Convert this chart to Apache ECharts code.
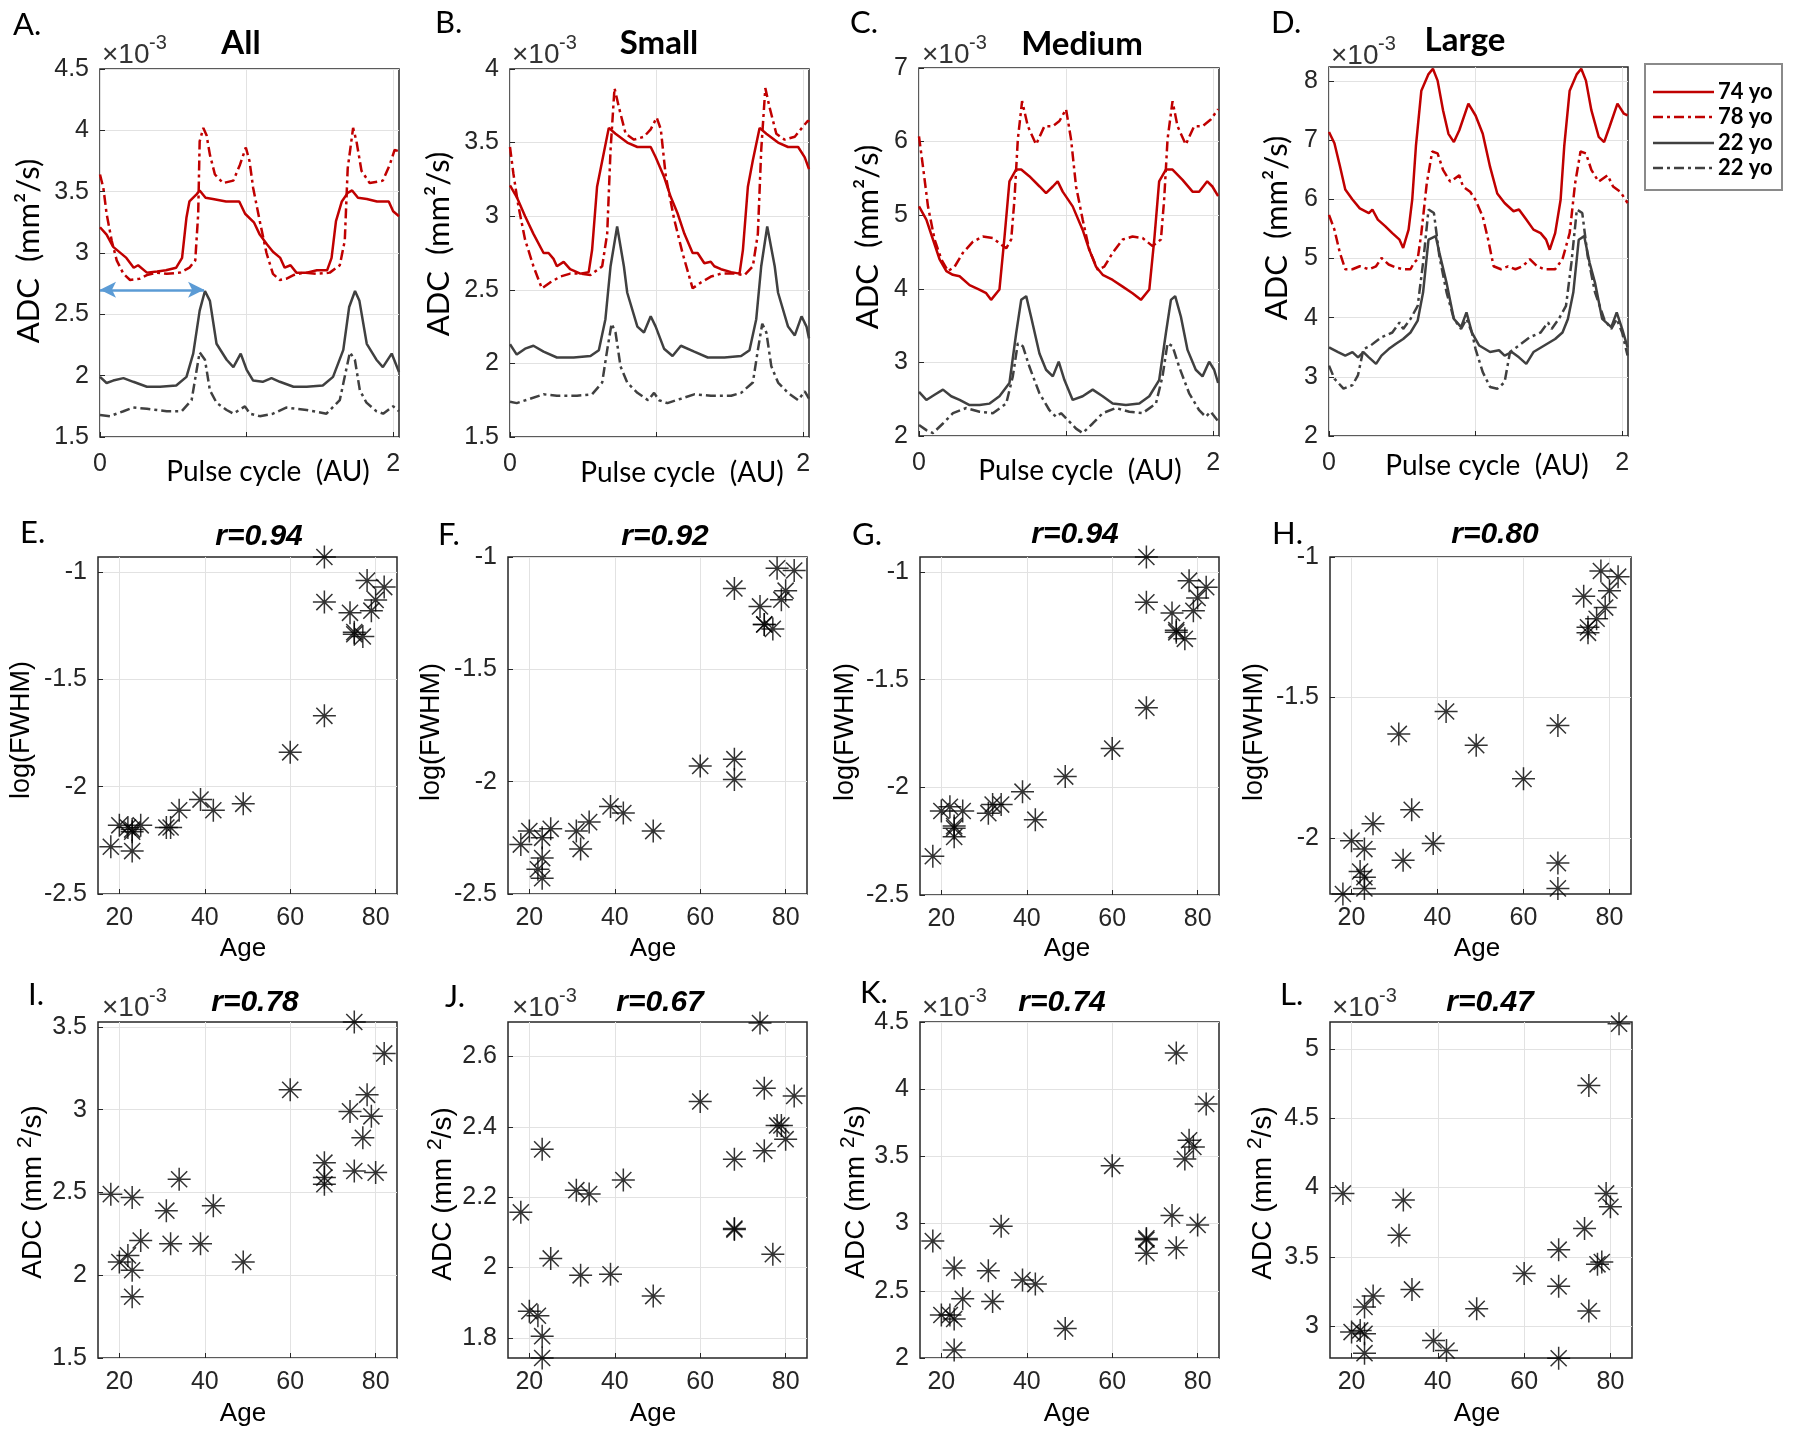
<!DOCTYPE html>
<html><head><meta charset="utf-8">
<script src="https://cdn.jsdelivr.net/npm/echarts@6/dist/echarts.min.js"></script>
<style>html,body{margin:0;padding:0;background:#fff}#c{width:1800px;height:1435px}</style>
</head><body><div id="c"></div><script>
// ---------- Top row: ADC over two pulse cycles, values in 10^-3 mm^2/s, [pulse cycle, ADC] ----------
const A_74yo = [[0,3.21],[0.045,3.15],[0.09,3.05],[0.18,2.96],[0.23,2.88],[0.26,2.90],[0.32,2.84],[0.39,2.85],[0.45,2.86],[0.52,2.88],[0.56,2.96],[0.59,3.29],[0.61,3.42],[0.66,3.48],[0.68,3.51],[0.72,3.45],[0.77,3.44],[0.86,3.42],[0.95,3.42],[0.99,3.32],[1.05,3.25],[1.09,3.15],[1.14,3.07],[1.18,3.01],[1.23,2.96],[1.26,2.88],[1.30,2.90],[1.34,2.84],[1.41,2.84],[1.48,2.86],[1.55,2.86],[1.58,2.96],[1.61,3.26],[1.65,3.42],[1.69,3.49],[1.72,3.51],[1.76,3.45],[1.82,3.44],[1.89,3.42],[1.97,3.42],[2.0,3.34],[2.04,3.30]];
const A_78yo = [[0,3.64],[0.023,3.53],[0.045,3.32],[0.08,3.10],[0.114,2.94],[0.16,2.83],[0.205,2.78],[0.27,2.79],[0.32,2.82],[0.386,2.84],[0.455,2.83],[0.545,2.84],[0.61,2.88],[0.65,2.94],[0.67,3.32],[0.68,3.91],[0.705,4.02],[0.727,3.96],[0.75,3.80],[0.784,3.64],[0.84,3.57],[0.91,3.59],[0.955,3.72],[0.995,3.86],[1.02,3.75],[1.045,3.53],[1.09,3.26],[1.136,3.0],[1.18,2.83],[1.227,2.78],[1.27,2.79],[1.32,2.82],[1.386,2.84],[1.477,2.83],[1.568,2.84],[1.636,2.90],[1.67,3.10],[1.69,3.69],[1.727,4.02],[1.75,3.91],[1.784,3.67],[1.84,3.57],[1.93,3.59],[1.977,3.72],[2.01,3.84],[2.04,3.83]];
const A_22yoA = [[0,1.99],[0.045,1.94],[0.09,1.96],[0.16,1.98],[0.227,1.95],[0.32,1.91],[0.41,1.91],[0.52,1.92],[0.59,1.99],[0.636,2.18],[0.68,2.53],[0.716,2.69],[0.75,2.61],[0.795,2.26],[0.864,2.13],[0.91,2.07],[0.96,2.18],[1.0,2.05],[1.045,1.96],[1.11,1.95],[1.17,1.98],[1.227,1.95],[1.32,1.91],[1.41,1.91],[1.52,1.92],[1.59,1.99],[1.66,2.21],[1.70,2.56],[1.74,2.69],[1.77,2.61],[1.82,2.26],[1.886,2.13],[1.93,2.07],[1.99,2.18],[2.04,2.03]];
const A_22yoB = [[0,1.68],[0.068,1.67],[0.16,1.71],[0.227,1.74],[0.32,1.73],[0.455,1.71],[0.557,1.71],[0.625,1.80],[0.66,2.05],[0.68,2.19],[0.716,2.13],[0.75,1.88],[0.795,1.78],[0.864,1.72],[0.91,1.69],[0.989,1.75],[1.023,1.69],[1.09,1.67],[1.18,1.69],[1.27,1.74],[1.41,1.72],[1.545,1.69],[1.636,1.80],[1.68,2.05],[1.705,2.19],[1.739,2.13],[1.773,1.88],[1.818,1.78],[1.886,1.71],[1.932,1.69],[2.0,1.75],[2.04,1.71]];
const A_ARROW_X = [0, 0.71];
const A_ARROW_Y = 2.7;

const B_74yo = [[0,3.21],[0.046,3.13],[0.103,3.0],[0.16,2.88],[0.229,2.75],[0.263,2.75],[0.297,2.71],[0.32,2.66],[0.366,2.69],[0.41,2.64],[0.48,2.61],[0.537,2.62],[0.56,2.77],[0.594,3.2],[0.63,3.38],[0.674,3.6],[0.72,3.56],[0.8,3.5],[0.869,3.47],[0.96,3.47],[0.994,3.40],[1.05,3.27],[1.097,3.13],[1.143,3.02],[1.19,2.88],[1.246,2.75],[1.28,2.75],[1.326,2.68],[1.37,2.69],[1.394,2.66],[1.44,2.64],[1.509,2.62],[1.566,2.61],[1.589,2.77],[1.623,3.2],[1.657,3.38],[1.703,3.6],[1.749,3.56],[1.829,3.5],[1.897,3.47],[1.966,3.47],[2.011,3.40],[2.04,3.32]];
const B_78yo = [[0,3.47],[0.023,3.29],[0.057,3.07],[0.103,2.84],[0.16,2.66],[0.217,2.51],[0.274,2.55],[0.343,2.59],[0.411,2.61],[0.48,2.61],[0.549,2.60],[0.629,2.66],[0.663,2.88],[0.686,3.45],[0.713,3.87],[0.743,3.74],[0.789,3.56],[0.846,3.52],[0.914,3.54],[0.96,3.59],[1.001,3.67],[1.029,3.59],[1.063,3.27],[1.12,2.98],[1.177,2.75],[1.246,2.51],[1.303,2.55],[1.371,2.59],[1.44,2.61],[1.531,2.61],[1.6,2.60],[1.657,2.66],[1.691,2.88],[1.714,3.45],[1.742,3.87],[1.771,3.74],[1.817,3.56],[1.874,3.52],[1.943,3.54],[2.0,3.61],[2.034,3.65],[2.04,3.64]];
const B_22yoA = [[0,2.13],[0.046,2.06],[0.103,2.10],[0.16,2.12],[0.229,2.08],[0.32,2.04],[0.434,2.04],[0.549,2.05],[0.606,2.09],[0.651,2.30],[0.686,2.66],[0.731,2.93],[0.777,2.66],[0.8,2.48],[0.869,2.25],[0.914,2.21],[0.96,2.32],[0.994,2.25],[1.051,2.10],[1.109,2.05],[1.166,2.12],[1.257,2.08],[1.349,2.04],[1.463,2.04],[1.577,2.05],[1.634,2.09],[1.68,2.30],[1.714,2.66],[1.755,2.93],[1.806,2.66],[1.829,2.48],[1.897,2.25],[1.943,2.19],[1.989,2.32],[2.023,2.25],[2.04,2.17]];
const B_22yoB = [[0,1.74],[0.046,1.73],[0.137,1.76],[0.229,1.79],[0.32,1.78],[0.457,1.78],[0.56,1.79],[0.629,1.87],[0.663,2.09],[0.693,2.27],[0.72,2.21],[0.754,1.98],[0.8,1.87],[0.869,1.80],[0.942,1.75],[0.983,1.80],[1.017,1.75],[1.074,1.73],[1.166,1.76],[1.257,1.79],[1.371,1.78],[1.509,1.78],[1.577,1.80],[1.657,1.87],[1.691,2.09],[1.721,2.27],[1.749,2.21],[1.783,1.98],[1.829,1.87],[1.897,1.80],[1.966,1.75],[2.011,1.81],[2.04,1.76]];

const C_74yo = [[0,5.12],[0.05,4.94],[0.095,4.67],[0.14,4.40],[0.186,4.24],[0.23,4.19],[0.276,4.17],[0.344,4.05],[0.41,3.99],[0.457,3.94],[0.49,3.85],[0.547,3.99],[0.58,4.67],[0.615,5.46],[0.66,5.62],[0.695,5.62],[0.75,5.53],[0.82,5.39],[0.864,5.30],[0.91,5.39],[0.943,5.46],[0.977,5.32],[1.045,5.12],[1.113,4.80],[1.158,4.53],[1.204,4.30],[1.249,4.19],[1.317,4.12],[1.385,4.03],[1.452,3.94],[1.509,3.85],[1.566,3.99],[1.60,4.67],[1.633,5.46],[1.679,5.62],[1.724,5.62],[1.792,5.48],[1.86,5.32],[1.905,5.32],[1.96,5.46],[1.995,5.39],[2.034,5.26]];
const C_78yo = [[0,6.07],[0.027,5.66],[0.061,5.12],[0.106,4.67],[0.152,4.40],[0.197,4.24],[0.242,4.30],[0.299,4.49],[0.367,4.64],[0.434,4.71],[0.502,4.69],[0.559,4.60],[0.593,4.55],[0.627,4.67],[0.649,5.21],[0.672,6.03],[0.701,6.55],[0.74,6.21],[0.796,5.96],[0.853,6.21],[0.91,6.21],[0.955,6.28],[1.0,6.44],[1.034,6.03],[1.068,5.39],[1.113,4.94],[1.158,4.53],[1.215,4.26],[1.26,4.30],[1.317,4.49],[1.385,4.67],[1.452,4.71],[1.52,4.69],[1.588,4.58],[1.645,4.67],[1.667,5.21],[1.69,6.03],[1.724,6.55],[1.758,6.21],[1.814,5.96],[1.871,6.21],[1.928,6.21],[1.984,6.30],[2.034,6.44]];
const C_22yoA = [[0,2.60],[0.05,2.49],[0.106,2.56],[0.163,2.63],[0.219,2.54],[0.276,2.49],[0.344,2.42],[0.412,2.42],[0.48,2.44],[0.547,2.54],[0.615,2.72],[0.661,3.40],[0.695,3.85],[0.729,3.90],[0.762,3.62],[0.819,3.12],[0.864,2.90],[0.91,2.81],[0.95,3.01],[0.989,2.76],[1.045,2.49],[1.113,2.54],[1.181,2.63],[1.249,2.54],[1.317,2.44],[1.407,2.42],[1.498,2.44],[1.566,2.54],[1.633,2.76],[1.679,3.40],[1.713,3.85],[1.742,3.90],[1.781,3.62],[1.826,3.17],[1.882,2.90],[1.928,2.81],[1.973,3.01],[2.007,2.90],[2.034,2.72]];
const C_22yoB = [[0,2.15],[0.05,2.08],[0.095,2.04],[0.163,2.17],[0.231,2.31],[0.321,2.38],[0.412,2.33],[0.502,2.31],[0.593,2.44],[0.638,2.81],[0.672,3.26],[0.706,3.22],[0.751,2.94],[0.819,2.58],[0.887,2.35],[0.932,2.26],[0.966,2.31],[1.011,2.22],[1.068,2.10],[1.113,2.04],[1.181,2.17],[1.249,2.31],[1.339,2.38],[1.43,2.33],[1.52,2.31],[1.611,2.44],[1.656,2.81],[1.69,3.26],[1.724,3.22],[1.769,2.94],[1.837,2.58],[1.905,2.35],[1.95,2.26],[1.984,2.33],[2.034,2.20]];

const D_74yo = [[0,7.14],[0.037,6.95],[0.074,6.57],[0.111,6.17],[0.16,6.0],[0.21,5.85],[0.272,5.77],[0.296,5.83],[0.333,5.66],[0.383,5.55],[0.432,5.43],[0.481,5.32],[0.506,5.18],[0.543,5.49],[0.568,6.0],[0.593,6.9],[0.63,7.84],[0.679,8.12],[0.709,8.21],[0.741,8.01],[0.778,7.51],[0.815,7.11],[0.852,6.97],[0.889,7.17],[0.951,7.62],[1.0,7.42],[1.049,7.11],[1.099,6.55],[1.148,6.10],[1.198,5.94],[1.259,5.80],[1.296,5.83],[1.346,5.66],[1.395,5.49],[1.444,5.43],[1.481,5.32],[1.506,5.15],[1.543,5.43],[1.58,5.99],[1.605,6.9],[1.642,7.84],[1.691,8.12],[1.721,8.21],[1.753,8.01],[1.79,7.51],[1.84,7.06],[1.877,6.97],[1.914,7.23],[1.968,7.62],[2.012,7.45],[2.037,7.42]];
const D_78yo = [[0,5.74],[0.037,5.49],[0.074,5.10],[0.111,4.82],[0.16,4.82],[0.21,4.87],[0.272,4.82],[0.321,4.87],[0.358,5.01],[0.407,4.90],[0.457,4.85],[0.506,4.82],[0.556,4.82],[0.58,4.93],[0.605,4.99],[0.63,5.43],[0.667,6.27],[0.704,6.81],[0.741,6.78],[0.778,6.50],[0.827,6.30],[0.889,6.41],[0.914,6.22],[0.963,6.13],[1.0,5.99],[1.049,5.71],[1.086,5.32],[1.123,4.87],[1.173,4.82],[1.222,4.87],[1.272,4.82],[1.321,4.87],[1.37,4.99],[1.42,4.87],[1.469,4.82],[1.543,4.82],[1.593,4.99],[1.642,5.43],[1.679,6.27],[1.716,6.81],[1.753,6.78],[1.79,6.50],[1.84,6.30],[1.901,6.41],[1.938,6.22],[1.988,6.13],[2.037,5.94]];
const D_22yoA = [[0,3.50],[0.062,3.42],[0.111,3.36],[0.16,3.42],[0.198,3.33],[0.235,3.42],[0.272,3.33],[0.321,3.22],[0.358,3.36],[0.407,3.47],[0.457,3.56],[0.506,3.64],[0.556,3.75],[0.605,3.95],[0.642,4.43],[0.679,5.32],[0.728,5.38],[0.753,5.10],[0.802,4.59],[0.852,3.98],[0.901,3.84],[0.938,4.09],[0.975,3.75],[1.025,3.53],[1.099,3.42],[1.16,3.45],[1.198,3.36],[1.247,3.42],[1.296,3.33],[1.346,3.22],[1.395,3.42],[1.469,3.53],[1.543,3.64],[1.593,3.75],[1.63,3.98],[1.667,4.43],[1.704,5.32],[1.741,5.38],[1.778,4.93],[1.815,4.59],[1.864,3.98],[1.926,3.84],[1.963,4.09],[2.0,3.81],[2.037,3.50]];
const D_22yoB = [[0,3.19],[0.037,2.97],[0.099,2.80],[0.16,2.86],[0.198,3.03],[0.235,3.47],[0.284,3.53],[0.358,3.67],[0.432,3.75],[0.481,3.92],[0.506,3.81],[0.556,3.98],[0.605,4.20],[0.642,4.93],[0.679,5.83],[0.716,5.77],[0.753,5.04],[0.802,4.43],[0.852,3.98],[0.901,3.81],[0.938,3.98],[0.975,3.75],[1.0,3.47],[1.049,3.08],[1.099,2.83],[1.148,2.80],[1.198,2.91],[1.235,3.42],[1.296,3.53],[1.37,3.67],[1.444,3.75],[1.494,3.92],[1.519,3.81],[1.568,3.98],[1.617,4.20],[1.654,4.93],[1.691,5.83],[1.728,5.77],[1.765,5.04],[1.815,4.43],[1.877,3.98],[1.926,3.81],[1.963,3.98],[2.0,3.75],[2.037,3.36]];

// ---------- Scatter rows: subject ages and per-panel values ----------
const AGE = [18,20,22,23,23,23,25,31,32,34,39,42,49,60,68,68,68,74,75,75,77,78,79,80,82];
const E_logFWHM_all    = [-2.28,-2.18,-2.19,-2.21,-2.30,-2.20,-2.18,-2.19,-2.19,-2.11,-2.06,-2.11,-2.08,-1.84,-1.67,-1.14,-0.93,-1.19,-1.28,-1.29,-1.30,-1.04,-1.18,-1.13,-1.07];
const F_logFWHM_small  = [-2.28,-2.22,-2.39,-2.25,-2.34,-2.43,-2.21,-2.22,-2.30,-2.18,-2.11,-2.14,-2.22,-1.93,-1.90,-1.99,-1.14,-1.22,-1.30,-1.30,-1.32,-1.05,-1.19,-1.15,-1.06];
const G_logFWHM_medium = [-2.32,-2.11,-2.09,-2.18,-2.23,-2.19,-2.11,-2.12,-2.08,-2.08,-2.02,-2.15,-1.95,-1.82,-1.63,-1.14,-0.93,-1.19,-1.27,-1.28,-1.31,-1.04,-1.18,-1.12,-1.07];
const H_logFWHM_large  = [-2.20,-2.01,-2.12,-2.04,-2.14,-2.18,-1.95,-1.63,-2.08,-1.90,-2.02,-1.55,-1.67,-1.79,-1.60,-2.09,-2.18,-1.14,-1.27,-1.25,-1.22,-1.05,-1.18,-1.12,-1.07];
const I_ADC_all    = [2.49,2.08,2.12,2.47,2.03,1.87,2.21,2.39,2.19,2.58,2.19,2.42,2.08,3.12,2.68,2.59,2.55,2.99,3.53,2.63,2.83,3.09,2.96,2.62,3.34];
const J_ADC_small  = [2.157,1.876,1.863,2.336,1.805,1.743,2.026,2.22,1.978,2.209,1.981,2.249,1.919,2.472,2.308,2.111,2.108,2.695,2.51,2.332,2.038,2.404,2.404,2.365,2.488];
const K_ADC_medium = [2.87,2.32,2.32,2.67,2.29,2.06,2.44,2.65,2.42,2.98,2.58,2.55,2.22,3.43,2.88,2.89,2.78,3.06,4.27,2.82,3.48,3.62,3.57,2.99,3.89];
const L_ADC_large  = [3.958,2.957,2.969,3.138,2.945,2.805,3.217,3.656,3.91,3.265,2.896,2.824,3.125,3.379,3.552,3.287,2.768,3.704,4.737,3.109,3.446,3.463,3.958,3.861,5.183];

// ---------- Axis ranges and tick labels ----------
const TOP_X_TICKS = [0,1,2];
const TOP_X_LABELS = [0,2];
const AGE_TICKS = [20,40,60,80];
const Y_RANGES = [[1.5,4.5],[1.5,4],[2,7],[2,8.24],[-2.5,-0.93],[-2.5,-1],[-2.5,-0.93],[-2.2,-1],[1.5,3.53],[1.743,2.698],[2,4.5],[2.77,5.195]];
const Y_TICKS = [[1.5,2,2.5,3,3.5,4,4.5],[1.5,2,2.5,3,3.5,4],[2,3,4,5,6,7],[2,3,4,5,6,7,8],[-2.5,-2,-1.5,-1],[-2.5,-2,-1.5,-1],[-2.5,-2,-1.5,-1],[-2,-1.5,-1],[1.5,2,2.5,3,3.5],[1.8,2,2.2,2.4,2.6],[2,2.5,3,3.5,4,4.5],[3,3.5,4,4.5,5]];
const R_TITLES = ['r=0.94','r=0.92','r=0.94','r=0.80','r=0.78','r=0.67','r=0.74','r=0.47'];
const SIZE_TITLES = ['All','Small','Medium','Large'];
const LEGEND_NAMES = ['74 yo','78 yo','22 yo','22 yo'];

// ---------- Layout ----------
const GRIDS = [
  [100,69,299,368],[510,69,299,368],[919,68,300,368],[1329,67,299,369],
  [98,557,299,337],[508,557,299,337],[920,557,299,338],[1330,557,301,337],
  [98,1022,299,336],[508,1022,299,336],[920,1022,299,336],[1330,1022,302,336]
];
const RED = '#c00000', GRAY = '#404040', INK = '#262626';
const DASHDOT = [10,4,3,4];
const TICKFONT = 'Liberation Sans';
const TICKSIZE = 25;

const grid = GRIDS.map(g => ({left:g[0], top:g[1], width:g[2], height:g[3], show:true, borderColor:INK, borderWidth:1.5, backgroundColor:'#fff', containLabel:false}));

const xAxis = [], yAxis = [];
GRIDS.forEach((g, i) => {
  const top = i < 4;
  const tx = top ? TOP_X_TICKS : AGE_TICKS;
  const lbl = top ? TOP_X_LABELS : AGE_TICKS;
  xAxis.push({
    type:'value', gridIndex:i, min: top ? 0 : 15, max: top ? 2.04 : 85,
    axisLine:{show:false},
    axisTick:{show:true, inside:true, length:5, customValues:tx, lineStyle:{color:INK, width:1}},
    splitLine:{show:true, lineStyle:{color:'#e2e2e2', width:1}},
    axisLabel:{customValues:tx, margin: top ? 15 : 12, color:INK, fontSize:TICKSIZE, fontFamily:TICKFONT,
      formatter: v => lbl.indexOf(v) >= 0 ? String(v) : ''}
  });
  yAxis.push({
    type:'value', gridIndex:i, min:Y_RANGES[i][0], max:Y_RANGES[i][1],
    axisLine:{show:false},
    axisTick:{show:true, inside:true, length:5, customValues:Y_TICKS[i], lineStyle:{color:INK, width:1}},
    splitLine:{show:true, lineStyle:{color:'#e2e2e2', width:1}},
    axisLabel:{customValues:Y_TICKS[i], margin:11, color:INK, fontSize:TICKSIZE, fontFamily:TICKFONT,
      formatter: v => String(v)}
  });
});

const series = [];
const topSets = [
  [A_74yo, A_78yo, A_22yoA, A_22yoB],
  [B_74yo, B_78yo, B_22yoA, B_22yoB],
  [C_74yo, C_78yo, C_22yoA, C_22yoB],
  [D_74yo, D_78yo, D_22yoA, D_22yoB]
];
const styles = [[RED,'solid'],[RED,DASHDOT],[GRAY,'solid'],[GRAY,DASHDOT]];
topSets.forEach((set, p) => {
  set.forEach((d, k) => {
    const s = {
      type:'line', xAxisIndex:p, yAxisIndex:p, data:d, showSymbol:false, symbol:'none',
      lineStyle:{color:styles[k][0], width:2.5, type:styles[k][1]}, z:3, silent:true
    };
    if (p === 0 && k === 0) {
      s.markLine = {
        silent:true, symbol:['arrow','arrow'], symbolSize:[12,16],
        lineStyle:{color:'#5b9bd5', width:2.5, type:'solid'}, label:{show:false},
        data:[[{coord:[A_ARROW_X[0], A_ARROW_Y]},{coord:[A_ARROW_X[1], A_ARROW_Y]}]]
      };
    }
    series.push(s);
  });
});

const ASTER = 'path://M0,10L20,10M10,0L10,20M3,3L17,17M3,17L17,3';
const scatterSets = [E_logFWHM_all, F_logFWHM_small, G_logFWHM_medium, H_logFWHM_large, I_ADC_all, J_ADC_small, K_ADC_medium, L_ADC_large];
scatterSets.forEach((vals, j) => {
  series.push({
    type:'scatter', xAxisIndex:4+j, yAxisIndex:4+j, clip:false,
    data: AGE.map((a, i) => [a, vals[i]]),
    symbol:ASTER, symbolSize:23,
    itemStyle:{color:'#000', borderColor:'#000', borderWidth:1.5}, z:3, silent:true
  });
});

// ---------- Text annotations ----------
function T(x, y, text, font, opt) {
  opt = opt || {};
  const st = {text:text, font:font, fill: opt.fill || '#000',
      textAlign: opt.align || 'center', align: opt.align || 'center',
      textVerticalAlign:'middle', verticalAlign:'middle'};
  if (opt.rich) { st.rich = opt.rich; st.lineHeight = opt.lineHeight; }
  return {type:'text', x:x, y:y, rotation: opt.rot || 0, z:10, silent:true, style:st};
}
const graphic = [];
const LETTERS = [['A.',13,25],['B.',435,23],['C.',850,23],['D.',1271,23],['E.',20,533],['F.',438,535],['G.',852,535],['H.',1272,534],['I.',28,995],['J.',445,997],['K.',860,993],['L.',1280,995]];
LETTERS.forEach(l => graphic.push(T(l[1], l[2], l[0], '31px Lato', {align:'left'})));
const TT = [[241,43],[659,43],[1082,44],[1465,40]];
SIZE_TITLES.forEach((t, i) => graphic.push(T(TT[i][0], TT[i][1], t, 'bold 33px Lato')));
const RT = [[259,537],[665,537],[1075,535],[1495,535],[255,1003],[660,1003],[1062,1003],[1490,1003]];
R_TITLES.forEach((t, i) => graphic.push(T(RT[i][0], RT[i][1], t, 'italic bold 30px "Liberation Sans"')));
const EXP = [[102,55],[512,55],[922,55],[1331,56],[102,1008],[512,1008],[922,1008],[1332,1008]];
EXP.forEach(e => {
  graphic.push(T(e[0], e[1], '\u00d710', '28px "Liberation Sans"', {align:'left', fill:'#333'}));
  graphic.push(T(e[0]+47, e[1]-12, '-3', '20px "Liberation Sans"', {align:'left', fill:'#333'}));
});
const YT1 = [[29,251],[439,244],[868,237],[1277,228]];
YT1.forEach(p => graphic.push(T(p[0], p[1], 'ADC  (mm\u00b2/s)', '31px Lato', {rot:Math.PI/2})));
const YT2 = [[22,730],[432,732],[846,732],[1255,732]];
YT2.forEach(p => graphic.push(T(p[0], p[1], 'log(FWHM)', '27px "Liberation Sans"', {rot:Math.PI/2})));
const YT3 = [[33,1192],[443,1194],[856,1192],[1263,1193]];
YT3.forEach(p => graphic.push(T(p[0], p[1], 'ADC (mm {s|2}/s)', '28px "Liberation Sans"',
  {rot:Math.PI/2, lineHeight:36, rich:{s:{fontSize:21, fontFamily:'Liberation Sans', verticalAlign:'top', lineHeight:21}}})));
const XT1 = [[268,472],[682,473],[1080,471],[1487,466]];
XT1.forEach(p => graphic.push(T(p[0], p[1], 'Pulse cycle  (AU)', '28px Lato')));
const XT2 = [[243,949],[653,949],[1067,949],[1477,949],[243,1414],[653,1414],[1067,1414],[1477,1414]];
XT2.forEach(p => graphic.push(T(p[0], p[1], 'Age', '26px "Liberation Sans"')));

// legend box
graphic.push({type:'rect', z:10, silent:true, shape:{x:1645, y:64, width:137, height:126}, style:{fill:'#fff', stroke:'#8a8a8a', lineWidth:2}});
const LEG_Y = [92,117,143,168];
LEGEND_NAMES.forEach((n, k) => {
  graphic.push({type:'line', z:11, silent:true, shape:{x1:1653, y1:LEG_Y[k], x2:1714, y2:LEG_Y[k]},
    style:{stroke:styles[k][0], lineWidth:2.5, lineDash: styles[k][1] === 'solid' ? null : DASHDOT}});
  graphic.push(Object.assign(T(1718, LEG_Y[k], n, 'bold 22px Lato', {align:'left'}), {z:11}));
});

const chart = echarts.init(document.getElementById('c'), null, {renderer:'canvas', width:1800, height:1435});
chart.setOption({animation:false, backgroundColor:'#fff', grid:grid, xAxis:xAxis, yAxis:yAxis, series:series, graphic:graphic});
</script></body></html>
